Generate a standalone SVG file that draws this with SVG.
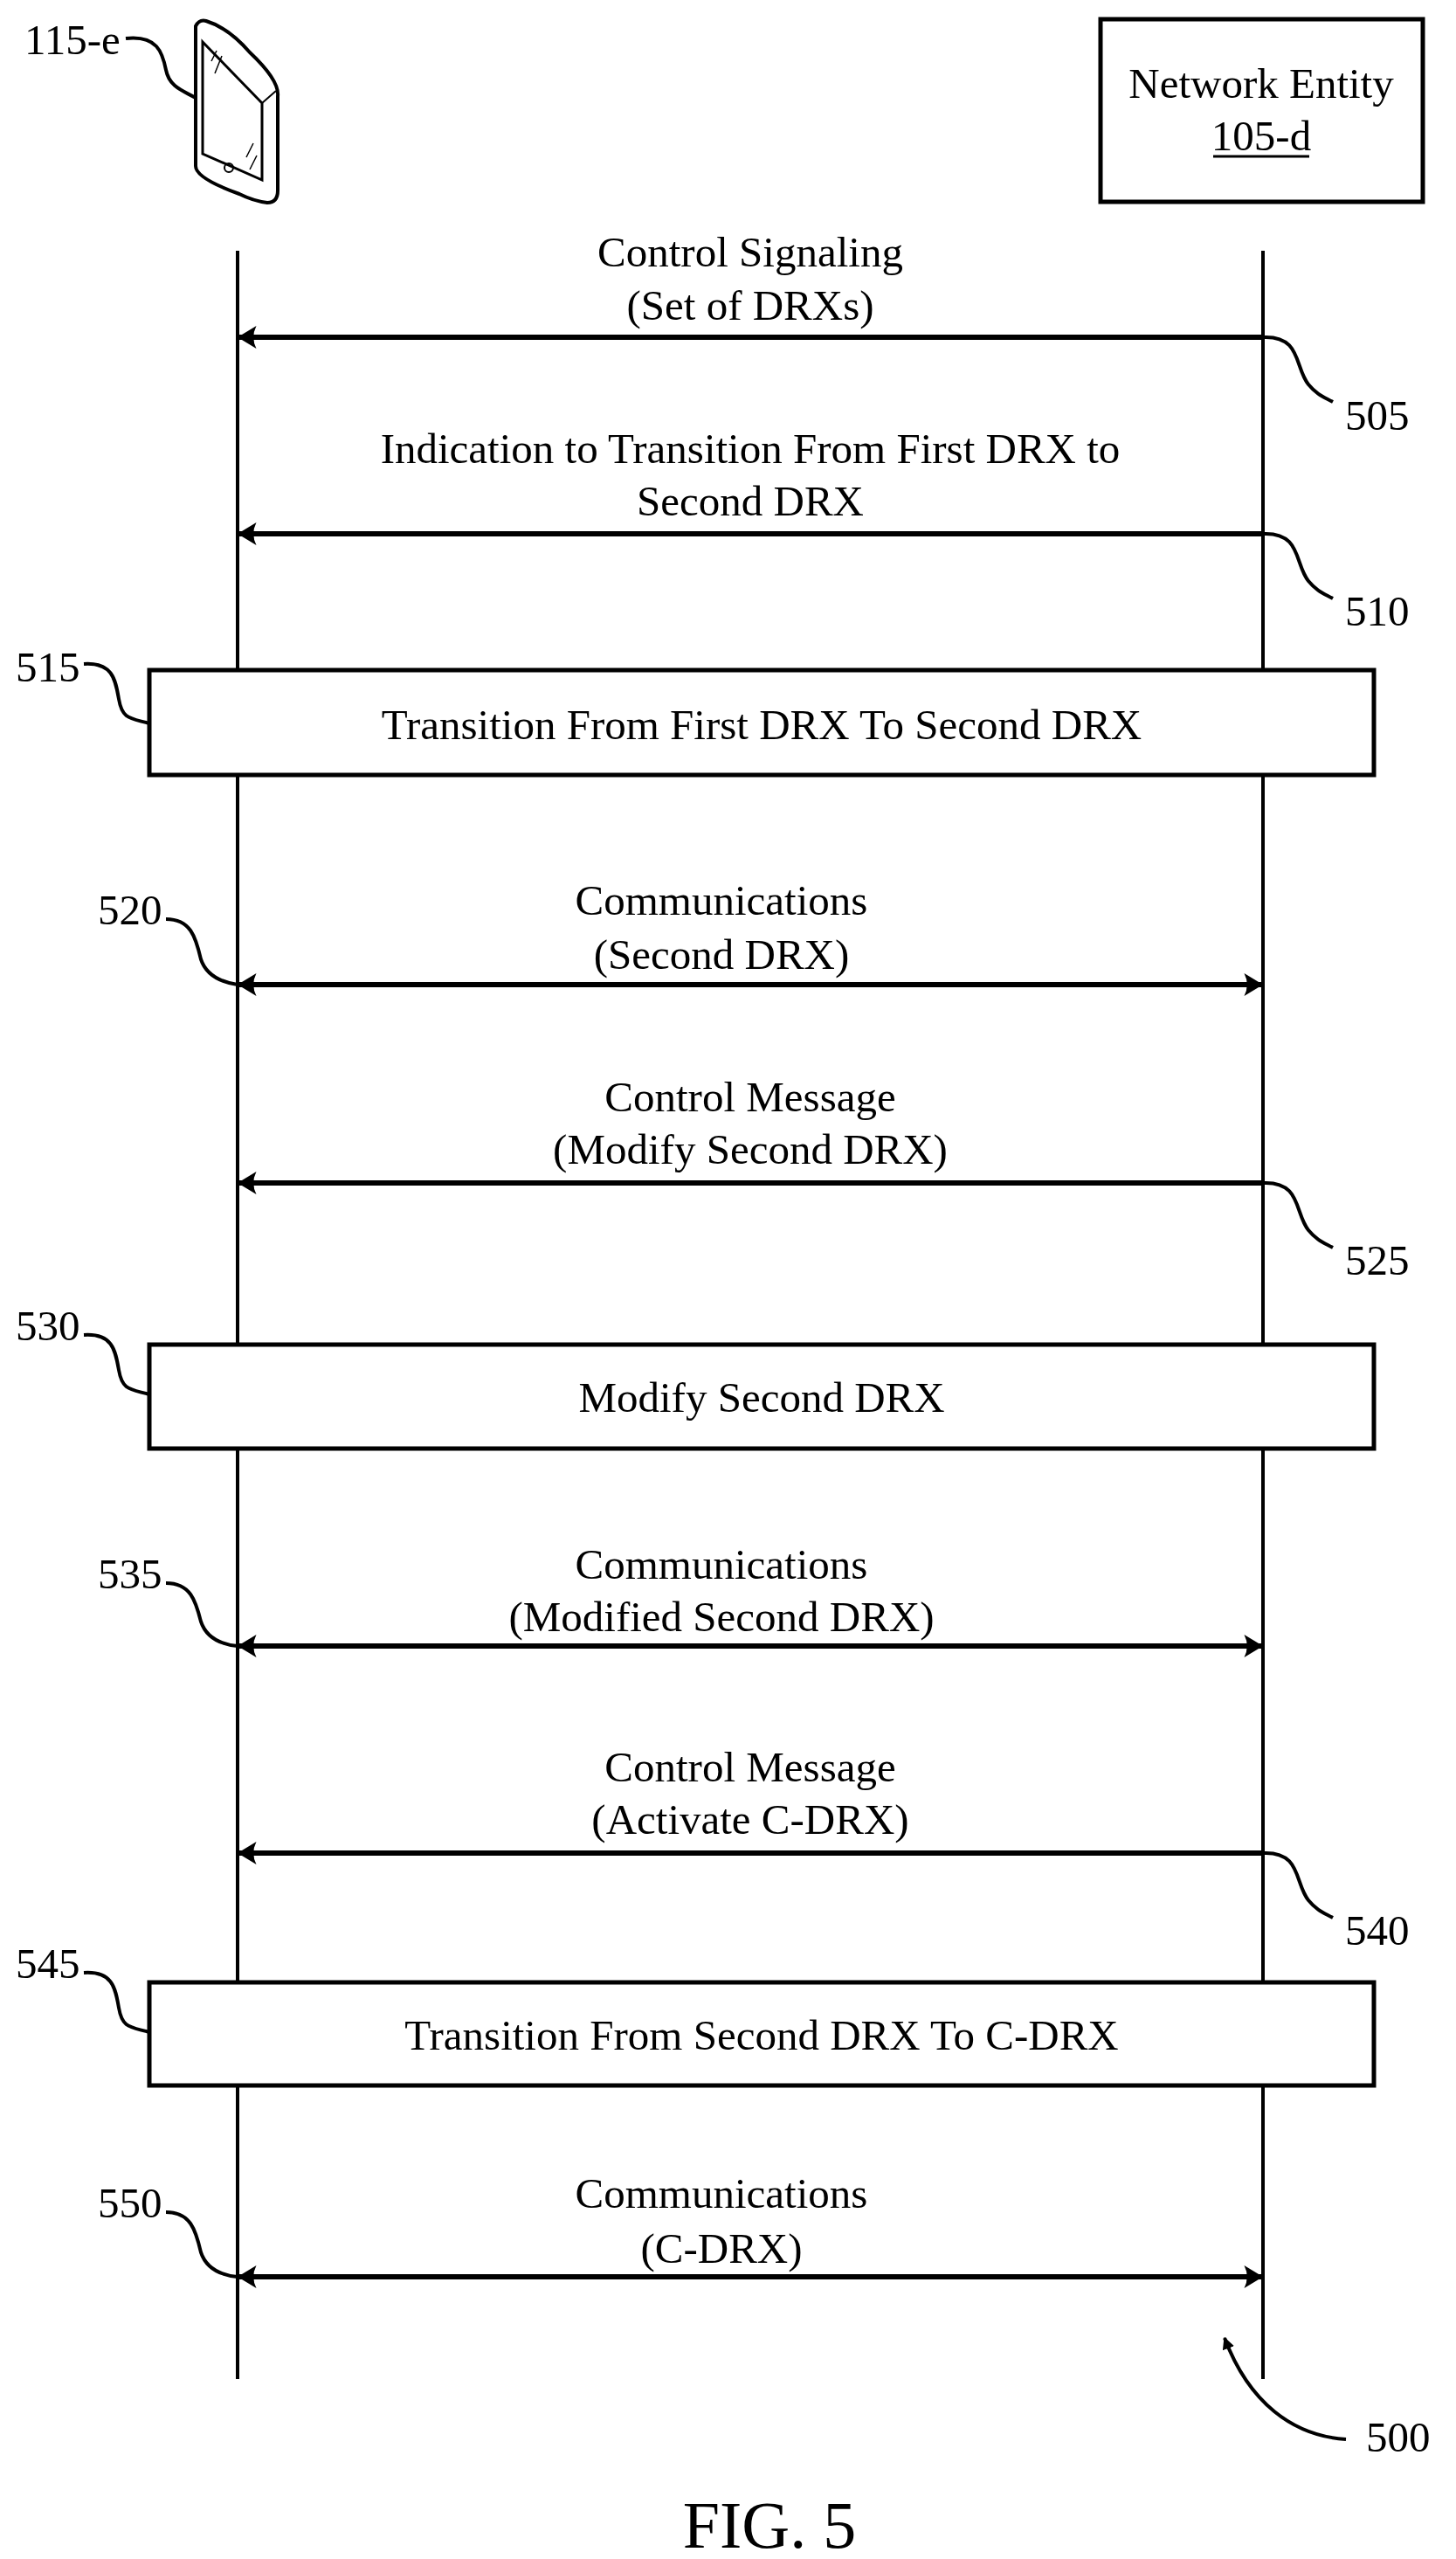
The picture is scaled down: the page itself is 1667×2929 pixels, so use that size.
<svg xmlns="http://www.w3.org/2000/svg" width="1667" height="2929" viewBox="0 0 1667 2929">
<style>
text{font-family:"Liberation Serif",serif;font-size:49px;fill:#000}
.c{text-anchor:middle}
.ln{stroke:#000;stroke-width:4;fill:none}
.ar{stroke:#000;stroke-width:6;fill:none}
.lead{stroke:#000;stroke-width:4;fill:none}
.bx{fill:#fff;stroke:#000;stroke-width:5}
</style>
<defs>
<marker id="ah" viewBox="0 0 20 24" refX="18" refY="12" markerWidth="22" markerHeight="26" markerUnits="userSpaceOnUse" orient="auto-start-reverse">
<path d="M0,0 Q6,12 0,24 L20,12 Z" fill="#000"/>
</marker>
<marker id="ah2" viewBox="0 0 10 10" refX="9" refY="5" markerWidth="14" markerHeight="14" markerUnits="userSpaceOnUse" orient="auto">
<path d="M0,0 L10,5 L0,10 Z" fill="#000"/>
</marker>
</defs>
<rect width="1667" height="2929" fill="#fff"/>
<g id="ue">
<path d="M224,30 Q228,22 236,24 Q262,32 286,60 Q320,92 318,110 L318,218 Q318,232 306,232 Q290,230 274,222 Q224,204 224,190 Z" fill="#fff" stroke="#000" stroke-width="4"/>
<path d="M232,48 L300,118 L300,206 L232,176 Z" fill="none" stroke="#000" stroke-width="3"/>
<path d="M300,118 L316,104" stroke="#000" stroke-width="2"/>
<circle cx="262" cy="192" r="5" fill="none" stroke="#000" stroke-width="2"/>
<path d="M242,70 L248,58 M246,84 L254,64 M282,180 L290,164 M286,194 L294,178" stroke="#000" stroke-width="1.5"/>
<text x="28" y="62">115-e</text>
<path class="lead" d="M144,44 C180,40 186,60 190,80 C194,100 210,104 224,112"/>
</g>
<g id="ne">
<rect x="1260" y="22" width="369" height="209" fill="#fff" stroke="#000" stroke-width="5"/>
<text class="c" x="1444" y="112">Network Entity</text>
<text class="c" x="1444" y="172">105-d</text>
<line x1="1389" y1="179" x2="1499" y2="179" stroke="#000" stroke-width="3"/>
</g>
<g id="lifelines">
<line class="ln" x1="272" y1="287" x2="272" y2="2723"/>
<line class="ln" x1="1446" y1="287" x2="1446" y2="2723"/>
</g>
<g id="connectors">
<line class="ar" x1="1446" y1="386" x2="274" y2="386" marker-end="url(#ah)"/>
<line class="ar" x1="1446" y1="611" x2="274" y2="611" marker-end="url(#ah)"/>
<line class="ar" x1="274" y1="1127" x2="1444" y2="1127" marker-start="url(#ah)" marker-end="url(#ah)"/>
<line class="ar" x1="1446" y1="1354" x2="274" y2="1354" marker-end="url(#ah)"/>
<line class="ar" x1="274" y1="1884" x2="1444" y2="1884" marker-start="url(#ah)" marker-end="url(#ah)"/>
<line class="ar" x1="1446" y1="2121" x2="274" y2="2121" marker-end="url(#ah)"/>
<line class="ar" x1="274" y1="2606" x2="1444" y2="2606" marker-start="url(#ah)" marker-end="url(#ah)"/>
</g>
<g id="m505">
<text class="c" x="859" y="305">Control Signaling</text>
<text class="c" x="859" y="366">(Set of DRXs)</text>
<path class="lead" d="M1446,386 C1490,384 1482,420 1498,440 C1508,452 1515,454 1526,460"/>
<text x="1540" y="492">505</text>
</g>
<g id="m510">
<text class="c" x="859" y="530">Indication to Transition From First DRX to</text>
<text class="c" x="859" y="590">Second DRX</text>
<path class="lead" d="M1446,611 C1490,609 1482,645 1498,665 C1508,677 1515,679 1526,685"/>
<text x="1540" y="716">510</text>
</g>
<g id="s515">
<rect class="bx" x="171" y="767" width="1402" height="120"/>
<text class="c" x="872" y="846">Transition From First DRX To Second DRX</text>
<text x="18" y="780">515</text>
<path class="lead" d="M96,760 C128,758 132,776 136,800 C140,824 150,822 171,828"/>
</g>
<g id="m520">
<text class="c" x="826" y="1047">Communications</text>
<text class="c" x="826" y="1109">(Second DRX)</text>
<text x="112" y="1058">520</text>
<path class="lead" d="M190,1052 C218,1052 224,1072 230,1098 C236,1116 252,1124 272,1127"/>
</g>
<g id="m525">
<text class="c" x="859" y="1272">Control Message</text>
<text class="c" x="859" y="1332">(Modify Second DRX)</text>
<path class="lead" d="M1446,1354 C1490,1352 1482,1388 1498,1408 C1508,1420 1515,1422 1526,1428"/>
<text x="1540" y="1459">525</text>
</g>
<g id="s530">
<rect class="bx" x="171" y="1539" width="1402" height="119"/>
<text class="c" x="872" y="1616">Modify Second DRX</text>
<text x="18" y="1534">530</text>
<path class="lead" d="M96,1528 C128,1526 132,1544 136,1568 C140,1592 150,1590 171,1596"/>
</g>
<g id="m535">
<text class="c" x="826" y="1807">Communications</text>
<text class="c" x="826" y="1867">(Modified Second DRX)</text>
<text x="112" y="1818">535</text>
<path class="lead" d="M190,1812 C218,1812 224,1832 230,1856 C236,1874 252,1882 272,1884"/>
</g>
<g id="m540">
<text class="c" x="859" y="2039">Control Message</text>
<text class="c" x="859" y="2099">(Activate C-DRX)</text>
<path class="lead" d="M1446,2121 C1490,2119 1482,2155 1498,2175 C1508,2187 1515,2189 1526,2195"/>
<text x="1540" y="2226">540</text>
</g>
<g id="s545">
<rect class="bx" x="171" y="2269" width="1402" height="118"/>
<text class="c" x="872" y="2346">Transition From Second DRX To C-DRX</text>
<text x="18" y="2264">545</text>
<path class="lead" d="M96,2258 C128,2256 132,2274 136,2298 C140,2322 150,2320 171,2326"/>
</g>
<g id="m550">
<text class="c" x="826" y="2527">Communications</text>
<text class="c" x="826" y="2590">(C-DRX)</text>
<text x="112" y="2538">550</text>
<path class="lead" d="M190,2532 C218,2532 224,2552 230,2578 C236,2596 252,2604 272,2606"/>
</g>
<g id="ref500">
<path class="lead" d="M1541,2792 C1480,2788 1430,2750 1402,2676" marker-end="url(#ah2)"/>
<text x="1564" y="2806">500</text>
</g>
<text class="c" x="881" y="2916" style="font-size:76px">FIG. 5</text>
</svg>
